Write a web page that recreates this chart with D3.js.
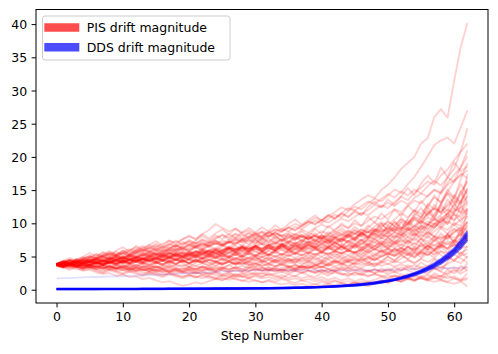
<!DOCTYPE html>
<html>
<head>
<meta charset="utf-8">
<script src="https://cdn.jsdelivr.net/npm/d3@7"></script>
<style>
  html, body { margin: 0; padding: 0; background: #fff; }
  svg { display: block; }
  text { font-family: "DejaVu Sans", sans-serif; fill: #000; }
</style>
</head>
<body>
<svg id="chart" width="498" height="354"></svg>
<script>
// ---------------- data ----------------
const steps = [0,1,2,3,4,5,6,7,8,9,10,11,12,13,14,15,16,17,18,19,20,21,22,23,24,25,26,27,28,29,30,31,32,33,34,35,36,37,38,39,40,41,42,43,44,45,46,47,48,49,50,51,52,53,54,55,56,57,58,59,60,61,62];
const xTicks = [0,10,20,30,40,50,60];
const yTicks = [0,5,10,15,20,25,30,35,40];
const legendLabels = ["PIS drift magnitude", "DDS drift magnitude"];
const xLabel = "Step Number";

// PIS drift magnitude runs
const pis01 = [3.8,3.9,4.1,4.0,4.3,4.5,4.4,4.7,4.9,4.8, 5.1,5.0,5.4,5.6,5.3,5.8,6.1,5.9,6.3,6.0, 6.4,6.8,6.5,7.1,7.4,7.0,7.5,7.9,7.6,8.1, 8.4,8.0,8.6,9.1,8.8,9.4,9.9,9.5,10.2,10.8, 10.4,11.1,11.7,12.4,12.0,12.9,13.6,14.2,13.8,15.0, 15.8,16.9,18.2,19.1,20.0,22.0,22.8,26.0,27.2,25.9, 31.5,36.6,40.2];
const pis02 = [3.7,3.5,3.8,3.6,3.9,4.2,4.0,4.4,4.1,4.6, 4.9,4.5,4.8,5.2,5.0,5.5,5.3,5.9,6.2,5.8, 6.1,6.6,6.3,6.9,7.3,6.8,7.2,7.7,7.4,7.9, 8.3,7.8,8.2,8.7,9.2,8.8,9.5,9.1,9.8,10.4, 10.0,10.7,11.3,10.9,11.8,12.5,12.1,13.0,13.7,13.3, 14.2,15.1,14.6,15.9,17.0,18.5,20.1,21.8,22.5,22.9, 22.0,24.5,27.0];
const pis03 = [3.9,4.1,3.9,4.2,4.0,4.3,4.6,4.3,4.7,4.5, 4.8,5.2,4.9,5.3,5.7,5.4,5.9,5.6,6.0,6.4, 6.0,6.5,6.9,6.6,7.0,6.7,7.3,7.0,7.6,7.2, 7.8,7.4,8.0,8.5,8.1,8.7,8.3,9.0,8.6,9.3, 9.8,9.4,10.1,10.7,10.3,11.0,11.6,11.2,12.0,12.7, 12.3,13.2,14.0,13.5,14.6,15.4,16.3,15.8,17.2,18.1, 19.5,20.8,22.0];
const pis04 = [3.6,3.4,3.7,3.5,3.8,3.6,4.0,3.8,4.2,4.4, 4.1,4.5,4.3,4.7,4.4,4.9,5.2,4.9,5.3,5.0, 5.4,5.8,5.5,5.9,6.3,6.0,6.5,6.2,6.7,6.4, 6.9,7.3,7.0,7.5,7.2,7.8,8.3,7.9,8.5,8.2, 8.8,8.4,9.1,9.7,9.3,10.0,9.6,10.4,11.0,10.6, 11.4,12.1,11.7,12.6,13.4,13.0,14.2,15.0,14.5,16.1, 17.3,18.4,20.1];
const pis05 = [3.8,4.0,4.3,4.1,4.5,4.8,4.6,5.0,5.3,5.1, 5.5,5.8,5.5,5.9,6.3,6.0,6.4,6.8,6.5,6.9, 7.3,7.0,7.5,7.2,7.8,8.2,7.9,8.4,8.1,8.6, 8.2,8.8,8.5,9.1,8.7,9.4,9.0,9.7,10.3,9.9, 10.5,10.1,10.8,11.4,11.0,11.7,11.3,12.0,12.8,12.4, 13.1,12.6,13.4,12.9,13.8,14.5,14.0,15.1,14.6,15.8, 16.5,17.2,18.0];
const pis06 = [3.9,4.2,4.5,4.3,4.7,5.0,4.8,5.2,5.6,5.3, 5.7,6.1,5.8,6.3,6.7,6.4,6.9,7.4,7.1,7.6, 8.0,7.7,8.4,9.0,9.9,9.3,8.8,9.2,8.6,8.9, 8.4,8.7,8.1,8.5,8.0,8.4,7.8,8.2,7.7,8.1, 7.5,7.9,7.4,7.8,8.3,7.9,8.5,8.1,8.7,9.2, 8.8,9.5,9.0,9.8,10.5,10.0,10.9,10.4,11.3,12.1, 11.5,13.2,15.0];
const pis07 = [3.7,3.9,3.7,4.0,4.3,4.1,4.4,4.2,4.6,4.9, 4.6,5.0,5.4,5.1,5.5,5.2,5.7,6.1,5.8,6.2, 5.9,6.4,6.1,6.6,7.0,6.7,7.2,6.9,7.5,7.9, 7.6,8.1,8.6,8.2,8.8,9.3,8.9,9.6,10.2,9.8, 10.5,11.2,10.8,11.5,12.3,11.9,12.6,13.3,12.9,13.7, 14.4,13.9,14.8,14.2,15.1,14.5,15.6,16.4,15.7,16.9, 16.2,17.5,16.8];
const pis08 = [3.8,3.6,3.9,3.7,4.0,3.8,4.1,3.9,4.3,4.1, 4.4,4.2,4.6,4.4,4.8,4.5,4.9,5.3,5.0,5.4, 5.1,5.5,5.2,5.6,5.3,5.8,5.5,6.0,6.4,6.1, 6.5,6.2,6.7,6.3,6.8,6.5,7.0,6.6,7.2,6.9, 7.4,7.1,7.7,7.3,7.9,7.5,8.2,8.8,8.4,9.1, 8.7,9.5,9.1,10.0,10.8,10.3,11.4,12.2,11.6,12.9, 13.8,13.1,15.2];
const pis09 = [3.9,3.7,4.0,4.2,4.0,4.3,4.1,4.5,4.2,4.6, 4.3,4.7,4.4,4.8,4.5,4.2,4.6,4.3,4.7,4.4, 4.8,5.2,4.9,5.3,5.0,5.5,5.1,5.6,5.3,5.8, 6.2,5.8,6.3,6.0,6.5,6.9,6.5,7.1,6.7,7.3, 7.8,7.4,8.0,7.6,8.3,8.9,8.4,9.1,8.7,9.5, 10.2,9.7,10.6,10.1,11.0,10.5,11.5,12.3,11.7,12.6, 13.4,12.8,14.1];
const pis10 = [3.7,3.9,3.6,3.8,3.5,3.7,3.4,3.7,3.5,3.8, 4.1,3.8,4.2,3.9,4.3,4.0,4.4,4.1,4.5,4.2, 4.6,4.3,4.7,5.1,4.8,5.2,4.9,5.4,5.0,5.5, 5.2,5.7,5.3,5.8,6.3,5.9,6.4,6.0,6.6,6.2, 6.8,6.4,7.0,6.6,7.3,6.9,7.6,7.2,7.9,8.5, 8.0,8.7,8.3,9.1,8.6,9.5,10.3,9.8,10.7,11.5, 12.2,11.6,13.0];
const pis11 = [3.8,4.0,3.8,4.1,3.9,4.2,4.5,4.2,4.6,4.9, 4.6,5.0,4.7,5.1,5.5,5.2,5.6,5.3,5.7,5.4, 5.8,5.5,5.9,5.6,6.0,5.7,6.2,5.8,6.3,5.9, 6.4,6.0,6.5,6.1,6.6,6.2,6.7,6.3,6.8,6.4, 6.9,7.4,7.0,7.6,7.2,7.8,7.4,8.0,7.6,8.3, 7.9,8.6,8.2,8.9,9.6,9.1,9.9,9.4,10.3,11.0, 10.5,11.4,12.2];
const pis12 = [3.8,3.6,3.4,3.6,3.3,3.5,3.2,3.4,3.1,3.3, 3.0,3.2,2.9,3.1,2.8,3.0,2.7,3.0,2.8,3.1, 3.4,3.1,3.5,3.2,3.6,3.3,3.7,4.1,3.8,4.2, 3.9,4.3,4.0,4.5,4.2,4.7,4.4,4.9,4.6,5.1, 5.6,5.2,5.8,5.4,6.0,5.6,6.3,5.9,6.6,7.2, 6.8,7.5,7.1,7.9,7.4,8.3,7.8,8.8,9.5,9.0, 10.1,9.6,11.0];
const pis13 = [3.9,4.1,4.4,4.2,4.5,4.3,4.7,4.4,4.8,4.5, 4.9,4.6,5.0,4.7,5.1,4.8,5.2,4.9,5.4,5.1, 5.5,5.2,5.7,5.3,5.8,5.4,6.0,5.6,6.1,5.7, 6.2,5.8,6.3,5.9,6.5,6.0,6.6,6.1,6.7,6.3, 5.9,6.4,6.0,6.5,6.1,6.7,6.2,6.8,6.3,7.0, 6.5,7.2,6.7,7.4,6.9,7.7,7.2,8.0,7.5,8.4, 9.2,8.7,10.1];
const pis14 = [3.7,3.5,3.7,3.4,3.6,3.3,3.5,3.2,3.4,3.1, 3.3,3.0,3.2,2.9,3.1,2.7,2.9,2.6,2.8,2.5, 2.7,2.4,2.6,2.3,2.5,2.2,2.4,2.1,2.3,2.6, 2.3,2.5,2.2,2.4,2.7,2.4,2.8,2.5,2.9,2.6, 3.0,2.7,3.1,3.5,3.2,3.6,3.3,3.8,3.5,4.0, 4.5,4.1,4.7,5.3,4.9,5.6,5.2,6.0,6.7,6.2, 7.4,8.3,9.5];
const pis15 = [3.8,3.9,3.7,3.9,3.6,3.8,4.0,3.8,4.1,3.9, 4.2,4.0,3.7,4.0,3.8,4.1,3.8,4.2,3.9,4.3, 4.0,4.4,4.1,4.5,4.2,4.6,4.3,4.7,4.4,4.8, 4.5,4.9,4.6,5.0,4.7,5.2,4.8,5.3,4.9,5.4, 5.0,5.5,5.1,5.6,5.2,5.7,5.3,5.9,5.4,6.0, 5.6,6.2,5.8,6.4,6.0,6.6,6.1,6.8,6.3,7.0, 6.5,7.3,8.0];
const pis16 = [3.9,4.1,3.9,4.2,4.0,4.3,4.1,4.4,4.2,4.5, 4.8,4.5,4.9,4.6,5.0,5.4,5.1,5.5,5.2,5.6, 5.3,5.7,6.1,5.8,6.2,5.9,6.3,6.0,6.5,6.1, 6.6,6.2,6.7,6.3,6.8,6.4,6.0,6.5,6.1,6.6, 6.2,6.7,6.3,6.9,6.4,7.0,6.5,6.1,6.6,6.2, 6.7,6.3,6.8,6.4,7.0,6.5,7.1,6.6,7.3,6.8, 7.5,6.9,7.2];
const pis17 = [3.7,3.8,3.6,3.8,3.5,3.7,3.4,3.6,3.3,3.5, 3.2,3.5,3.2,3.4,3.7,3.4,3.7,3.4,3.8,3.5, 3.9,3.6,4.0,3.7,4.1,3.8,4.2,3.9,4.3,4.0, 4.4,4.1,4.5,4.2,4.6,4.3,4.7,4.4,4.8,4.5, 4.9,4.6,5.0,4.7,5.1,4.8,5.2,4.9,5.3,5.0, 5.4,5.1,5.5,5.2,5.6,5.3,5.7,5.4,5.8,5.5, 5.9,5.5,6.1];
const pis18 = [3.8,3.7,3.9,3.7,4.0,3.8,4.1,3.9,4.2,4.5, 4.2,4.6,4.3,4.7,4.4,4.8,4.5,4.9,4.6,4.2, 4.5,4.1,4.4,4.0,4.3,3.9,4.2,3.8,4.1,3.7, 4.0,3.6,3.9,3.5,3.8,3.4,3.7,3.3,3.6,3.2, 3.5,3.1,3.4,3.0,3.3,2.9,3.2,2.8,3.1,2.7, 3.0,2.6,2.9,3.3,3.0,3.4,3.1,3.6,3.3,3.9, 4.4,4.0,5.0];
const pis19 = [3.6,3.5,3.3,3.5,3.2,3.4,3.1,3.3,3.0,3.2, 2.9,3.1,2.8,3.0,2.7,2.9,2.6,2.8,2.5,2.7, 2.4,2.6,2.3,2.5,2.2,2.0,2.2,1.9,2.1,1.8, 2.0,1.7,1.9,1.6,1.8,1.5,1.7,1.4,1.6,1.3, 1.5,1.2,1.4,1.1,1.3,1.0,1.2,0.9,1.1,1.4, 1.2,1.5,1.3,1.7,1.4,1.9,1.6,2.2,1.9,2.5, 3.1,2.7,4.0];
const pis20 = [3.7,3.5,3.6,3.4,3.2,3.4,3.1,2.9,3.1,2.8, 3.0,2.7,2.9,2.6,2.4,2.6,2.3,2.5,2.2,2.0, 2.2,1.9,2.1,1.8,1.6,1.8,1.5,1.7,1.4,1.2, 1.4,1.1,1.3,1.0,0.8,1.0,0.7,0.9,0.6,0.8, 0.6,0.9,0.7,1.0,0.8,1.1,0.9,1.2,1.0,1.4, 1.1,1.5,1.2,1.6,1.3,1.8,1.5,1.9,1.6,2.1, 1.7,1.4,2.5];
const pis21 = [3.9,3.7,3.9,3.6,3.8,3.5,3.7,3.4,3.6,3.3, 3.5,3.2,3.4,3.1,3.3,3.0,3.2,2.9,3.1,2.8, 3.0,2.7,2.9,3.2,2.9,3.3,3.0,3.4,3.1,3.5, 3.2,2.9,3.1,2.8,3.0,2.7,2.9,2.6,2.8,2.5, 2.7,2.4,2.6,2.3,2.5,2.2,2.4,2.1,2.3,2.0, 2.2,1.9,2.1,1.8,1.5,1.7,1.4,1.2,1.4,1.1, 0.9,1.2,0.5];
const pis22 = [3.6,3.3,3.5,3.1,2.9,3.0,2.6,2.4,2.5,2.1, 2.3,1.9,2.0,1.6,1.8,1.4,1.1,1.3,0.9,0.6, 0.8,1.1,0.9,1.3,1.6,1.4,1.8,2.1,1.9,2.3, 2.6,2.4,2.8,3.1,2.9,3.3,3.0,3.5,3.2,3.7, 4.1,3.8,4.3,4.0,4.6,4.3,4.9,4.5,5.2,5.8, 5.4,6.1,5.7,6.5,6.0,6.9,6.4,7.4,8.1,7.6, 8.7,9.4,8.9];
const pis23 = [3.8,4.0,4.2,4.0,4.3,4.1,4.5,4.2,4.6,4.4, 4.7,4.4,4.8,4.5,4.9,4.6,5.1,4.7,5.2,4.8, 5.3,4.9,5.4,5.0,5.5,5.1,5.6,5.2,5.7,5.3, 5.8,5.4,5.9,5.5,6.1,5.6,6.2,5.7,6.3,5.9, 6.4,6.0,6.6,6.1,6.7,6.3,6.9,7.5,7.1,7.8, 7.4,8.2,7.7,8.6,8.1,9.0,9.8,9.3,10.4,11.5, 12.8,14.3,16.5];
const pis24 = [3.7,3.9,4.1,4.4,4.2,4.5,4.8,4.5,4.9,5.2, 4.9,5.3,5.0,5.4,5.1,5.5,5.2,5.6,5.3,5.7, 5.4,5.8,5.5,5.9,5.6,6.0,6.4,6.1,6.5,6.2, 6.6,7.0,6.7,7.1,6.8,7.2,6.9,7.4,7.0,7.5, 7.1,7.6,7.2,7.7,7.3,7.8,8.3,7.9,8.4,8.0, 8.6,9.2,8.8,9.4,8.9,9.7,9.2,10.1,9.6,10.6, 11.4,10.9,12.3];
const pis25 = [3.8,3.6,3.8,4.1,3.9,4.2,3.9,4.3,4.0,4.4, 4.1,4.5,4.2,4.6,4.3,4.7,4.4,4.8,4.5,4.9, 4.6,5.0,4.7,5.1,4.8,4.5,4.8,4.4,4.7,4.3, 4.6,4.2,4.5,4.1,4.4,4.0,4.3,3.9,4.2,3.8, 4.1,4.5,4.2,4.6,4.3,4.7,4.4,4.9,4.5,5.0, 5.5,5.1,5.7,5.3,5.9,5.5,6.2,5.8,6.6,7.3, 6.9,7.8,9.0];
const pis26 = [3.9,4.2,4.0,4.4,4.7,4.4,4.8,5.1,4.8,5.2, 5.6,5.3,5.7,6.0,5.7,6.1,6.5,6.2,6.6,6.3, 6.7,7.1,6.8,7.2,6.9,7.4,7.0,7.5,7.1,7.6, 7.2,7.7,7.3,7.8,7.4,7.9,7.5,8.0,7.6,8.1, 7.7,8.2,7.8,8.3,7.9,8.4,8.0,7.6,8.1,7.7, 8.2,7.8,8.3,7.9,8.5,8.0,8.6,8.1,7.7,8.2, 7.8,8.4,7.5];
const pis27 = [3.8,3.9,3.7,3.9,3.6,3.8,3.5,3.7,3.9,3.6, 3.8,3.5,3.7,3.4,3.6,3.3,3.5,3.8,3.5,3.7, 3.4,3.6,3.3,3.5,3.2,3.4,3.1,3.3,3.6,3.3, 3.5,3.2,3.4,3.1,3.3,3.6,3.3,3.6,3.3,3.7, 3.4,3.8,3.5,3.9,3.6,4.0,3.7,4.1,3.8,4.2, 3.9,4.3,4.0,4.4,4.1,4.6,4.2,4.7,4.3,4.9, 4.5,5.1,5.5];
const pis28 = [3.7,3.9,4.1,3.9,4.2,4.5,4.2,4.6,4.3,4.7, 4.4,4.8,4.5,4.9,4.6,5.0,4.7,5.1,4.8,5.2, 4.9,5.3,5.0,5.4,5.1,4.8,5.1,4.7,5.0,4.6, 4.9,4.5,4.8,4.4,4.7,4.3,4.6,4.2,4.5,4.1, 4.4,4.0,4.3,3.9,4.2,3.8,4.1,3.7,4.0,3.6, 3.9,3.5,3.8,3.4,3.7,3.3,3.6,3.2,3.5,3.1, 3.4,3.0,3.5];
const pis29 = [3.9,4.0,3.8,4.1,3.9,4.2,4.0,4.3,4.1,4.4, 4.2,4.5,4.3,4.6,4.4,4.7,4.5,4.8,5.2,4.9, 5.3,5.0,5.4,5.8,5.5,5.9,6.3,6.0,6.4,6.1, 6.5,6.9,6.6,7.0,7.5,7.1,7.6,8.1,7.7,8.2, 7.8,8.3,8.8,8.4,8.9,8.5,9.0,8.6,9.2,8.7, 9.3,8.8,9.4,9.0,9.6,10.3,9.8,10.6,10.1,11.0, 11.8,12.4,13.2];
const pis30 = [3.7,3.6,3.8,3.5,3.7,3.4,3.6,3.3,3.5,3.2, 3.4,3.7,3.4,3.6,3.3,3.5,3.2,3.4,3.1,3.3, 3.0,3.2,2.9,3.1,2.8,3.0,2.7,2.9,2.6,2.8, 3.1,2.8,3.0,3.3,3.0,3.4,3.1,3.5,3.2,3.6, 3.9,3.6,4.0,4.4,4.1,4.6,4.2,4.8,4.4,5.0, 5.5,5.1,5.8,5.4,6.2,5.7,6.6,6.1,7.1,7.9, 8.6,9.3,10.2];
const pis31 = [3.8,4.0,3.8,4.1,3.8,4.2,3.9,4.3,4.0,4.4, 4.1,4.5,4.2,4.6,4.3,4.7,4.4,4.8,4.5,4.9, 4.6,5.0,4.7,5.1,4.8,5.2,4.9,5.3,5.0,5.4, 5.1,5.5,5.2,5.7,5.3,5.8,5.4,5.9,5.5,6.1, 5.7,6.3,5.9,6.5,6.1,6.8,6.3,7.0,6.6,7.4, 7.0,7.8,8.6,8.1,9.2,10.3,9.7,11.4,12.9,14.6, 13.8,16.7,19.1];
const pis32 = [3.7,3.5,3.7,3.5,3.8,3.6,3.9,3.7,4.0,3.8, 4.1,3.9,4.2,4.0,4.3,4.1,4.4,4.2,4.5,4.3, 4.6,4.4,4.8,4.5,4.9,4.6,5.0,4.7,5.1,4.8, 5.2,4.9,5.3,5.0,5.4,5.1,5.5,5.2,5.6,5.3, 5.7,5.4,5.8,5.5,5.9,5.6,6.0,6.5,6.1,6.7, 6.3,6.9,7.6,7.1,7.9,8.8,8.2,9.3,10.6,9.9, 11.8,13.2,15.3];
const pis33 = [3.9,4.1,4.3,4.1,4.4,4.2,4.6,4.9,4.6,5.0, 4.7,5.1,4.8,5.2,4.9,5.3,5.0,5.5,5.1,5.6, 5.2,5.7,5.3,5.8,5.4,5.9,6.3,6.0,6.5,6.1, 6.6,6.2,6.7,7.2,6.8,7.3,6.9,7.5,7.1,7.7, 8.2,7.8,8.5,8.1,8.8,8.3,9.1,8.6,9.5,10.2, 9.7,10.6,11.5,10.9,12.0,11.4,12.7,13.9,13.2,14.8, 16.3,18.5,21.0];
const pis34 = [3.8,3.6,3.9,3.7,4.0,3.7,4.1,3.8,4.2,3.9, 4.3,4.0,4.4,4.1,4.5,4.2,4.6,4.3,4.7,4.4, 4.0,4.4,4.1,4.5,4.2,4.6,4.3,4.7,4.4,4.8, 5.2,4.9,5.3,5.0,5.4,5.1,5.5,5.2,5.6,5.3, 5.7,5.4,5.8,5.5,5.9,5.6,6.0,5.7,6.1,5.8, 6.2,5.8,6.3,5.9,6.4,6.0,6.6,6.1,6.7,6.2, 6.8,6.3,6.5];
const pis35 = [3.8,3.7,3.9,3.8,4.0,3.9,4.1,3.9,4.2,4.0, 4.3,4.0,4.4,4.1,3.8,4.1,3.8,4.2,3.9,4.3, 4.0,4.4,4.1,4.5,4.2,3.9,4.2,3.8,4.1,3.7, 4.0,3.6,3.9,3.5,3.8,3.4,3.7,3.3,3.6,3.2, 3.5,3.1,2.8,3.1,2.7,3.0,2.6,2.9,2.5,2.8, 2.4,2.7,2.3,2.0,2.3,1.9,2.2,1.8,2.1,1.7, 2.0,1.5,1.8];
const pis36 = [3.9,4.2,4.5,4.3,4.7,5.0,4.7,5.1,5.4,5.1, 5.5,5.2,5.6,6.0,5.6,6.1,5.7,6.2,6.6,6.3, 6.7,6.4,6.8,6.5,7.0,6.6,7.1,7.6,7.2,7.7, 8.1,7.7,8.2,7.8,8.3,7.9,8.4,8.0,7.6,8.1, 7.7,8.2,7.8,8.4,8.0,8.6,8.1,8.7,8.2,8.9, 8.4,9.1,8.6,9.3,8.8,9.6,9.0,9.9,9.3,10.3, 9.7,10.6,11.1];
const pis37 = [3.8,4.1,3.7,4.3,4.0,4.6,4.2,3.9,4.5,4.8, 4.3,5.0,4.6,4.1,4.7,5.3,4.9,5.6,5.1,4.6, 5.2,5.8,5.3,6.0,5.5,4.9,5.6,6.2,5.7,6.4, 5.8,5.2,5.9,6.6,6.0,5.4,6.1,6.9,6.3,7.0, 6.4,7.2,6.5,5.9,6.7,7.5,6.8,7.7,8.5,7.8, 8.7,7.9,9.0,10.1,9.2,8.4,9.6,10.8,9.9,11.5, 10.4,12.6,11.2];
const pis38 = [3.7,3.4,3.9,3.5,3.2,3.7,4.0,3.6,4.2,3.8, 3.4,3.9,4.3,3.8,3.3,3.9,4.4,3.9,4.5,4.0, 3.5,4.1,4.7,4.1,3.6,4.2,4.8,4.3,3.8,4.4, 5.0,4.4,3.9,4.5,5.1,4.6,4.0,4.7,5.3,4.7, 4.2,4.8,5.5,4.9,4.3,5.0,5.7,5.1,4.5,5.3, 6.0,5.3,6.2,5.5,4.8,5.8,6.7,5.9,7.0,6.1, 7.5,6.4,8.2];
const pis39 = [3.9,4.3,4.0,4.6,4.9,4.4,5.0,5.5,5.0,5.7, 5.2,5.9,6.4,5.8,6.5,6.0,5.4,6.2,6.8,6.1, 6.9,6.3,7.1,6.4,5.8,6.5,7.3,6.6,5.9,6.7, 7.5,6.8,6.1,6.9,7.8,7.0,6.3,7.1,8.0,7.2, 8.2,7.3,6.6,7.5,8.5,7.6,8.7,7.8,8.9,9.9, 9.0,10.2,9.2,10.5,9.5,10.9,12.0,10.8,12.4,11.1, 13.0,11.6,14.2];
const pis40 = [3.8,3.5,3.9,3.6,3.3,3.8,3.4,3.1,3.6,3.2, 3.7,3.3,2.9,3.4,3.0,3.5,3.1,2.7,3.2,2.8, 3.3,2.9,3.5,3.0,2.6,3.1,3.7,3.2,2.8,3.3, 3.9,3.4,2.9,3.5,4.1,3.6,3.1,3.7,4.3,3.8, 3.3,3.9,4.5,4.0,3.4,4.1,4.7,4.2,3.6,4.3, 5.0,4.4,5.2,4.6,3.9,4.7,5.5,4.8,5.8,5.0, 6.1,5.2,6.6];
const pis41 = [3.7,4.0,4.4,4.0,4.5,4.1,4.7,5.1,4.6,5.2, 4.7,5.3,5.8,5.2,5.9,5.3,4.8,5.4,6.0,5.4, 4.9,5.5,6.2,5.6,5.0,5.7,6.4,5.8,5.2,5.9, 6.6,5.9,5.3,6.0,6.8,6.1,5.5,6.2,7.0,6.3, 5.6,6.4,7.2,6.5,5.8,6.6,7.5,6.7,7.6,6.8, 7.8,6.9,8.0,9.1,8.2,9.4,8.5,9.8,11.0,9.9, 11.4,10.2,12.0];
const pis42 = [3.6,3.3,3.0,3.3,2.9,3.2,2.8,2.5,2.9,2.6, 2.3,2.7,2.4,2.1,2.5,2.2,1.9,2.3,2.0,1.7, 2.1,1.8,2.3,2.0,1.7,2.2,1.9,2.4,2.0,1.7, 2.2,1.9,2.5,2.1,1.8,2.3,2.0,2.6,2.2,1.9, 2.5,2.1,2.7,2.3,2.0,2.6,2.2,2.9,2.5,3.2, 2.7,3.4,2.9,3.7,3.2,4.1,3.5,4.5,3.9,5.0, 4.3,5.6,4.8];
const pis43 = [3.8,4.2,3.9,4.4,4.0,4.5,4.1,3.7,4.2,3.8, 4.4,4.0,4.6,4.1,4.7,4.2,3.8,4.4,3.9,4.5, 4.0,4.7,4.2,4.9,4.3,3.9,4.5,4.0,4.7,4.2, 4.9,4.3,5.0,4.4,3.9,4.6,4.1,4.8,4.2,5.0, 4.4,5.1,4.5,5.3,4.6,5.5,4.8,5.7,4.9,5.9, 5.1,6.2,5.3,6.5,5.6,7.0,6.0,7.6,6.5,8.3, 7.1,9.2,7.8];
const pis44 = [3.9,4.3,4.8,4.4,5.0,5.5,5.0,5.7,5.2,5.9, 6.4,5.8,6.6,6.0,6.8,7.3,6.6,7.4,6.8,7.6, 8.2,7.5,8.4,7.7,8.5,9.1,8.3,9.2,8.4,7.8, 8.6,7.9,8.8,8.1,7.4,8.2,7.5,8.3,7.6,8.5, 7.8,8.7,8.0,8.9,8.1,9.1,8.3,9.4,10.2,9.3, 10.4,9.5,10.8,9.8,11.2,12.3,11.1,12.8,11.5,13.6, 12.2,14.8,13.1];
const pis45 = [3.7,3.9,3.5,3.8,3.4,3.7,4.1,3.7,4.2,3.8, 4.3,3.9,3.5,4.0,3.6,4.1,3.7,4.3,3.8,4.4, 3.9,4.5,4.0,3.6,4.1,3.7,4.3,3.8,4.4,3.9, 3.5,4.0,3.6,4.2,3.7,4.3,3.8,3.4,3.9,3.5, 4.1,3.6,4.2,3.7,4.4,3.9,4.6,4.0,4.8,4.2, 5.0,4.4,5.3,4.6,5.6,4.9,6.0,5.2,6.5,5.6, 7.0,6.1,7.6];
const pis46 = [3.8,3.6,4.0,3.7,4.1,3.8,4.3,3.9,4.4,4.0, 4.5,4.1,4.7,4.2,4.8,4.3,5.0,4.5,5.1,4.6, 5.3,4.8,5.5,4.9,5.6,5.1,5.8,5.2,6.0,5.4, 6.2,5.6,6.4,5.8,6.7,6.0,6.9,6.2,7.2,6.5, 7.5,6.8,7.8,7.1,8.2,7.4,8.6,7.8,9.0,8.2, 9.5,8.7,10.1,9.2,10.8,9.9,11.7,10.7,12.8,11.8, 14.3,13.1,17.4];
const pis47 = [3.8,3.5,3.2,3.5,3.1,3.4,3.0,2.7,3.1,2.8, 2.5,2.9,2.6,2.3,2.7,2.4,2.1,2.5,2.2,1.9, 2.3,2.0,1.7,2.1,1.8,1.5,1.9,1.6,1.3,1.7, 1.4,1.1,1.5,1.2,1.6,1.3,1.0,1.4,1.1,0.8, 1.2,0.9,1.3,1.0,0.7,1.1,0.8,0.5,0.9,1.3, 1.0,1.5,1.2,1.8,1.4,2.1,1.7,2.5,2.0,3.0, 2.4,3.6,2.9];
const pis48 = [3.8,4.1,4.5,4.1,4.6,4.2,4.7,4.3,4.9,4.4, 5.0,4.5,5.1,4.6,5.3,4.8,5.5,4.9,5.6,5.0, 5.7,5.1,5.9,5.3,6.0,5.4,6.2,5.5,6.3,5.6, 6.4,5.7,6.5,5.8,6.6,5.9,6.8,6.1,6.9,6.2, 7.1,6.3,7.2,6.4,7.4,6.6,7.5,6.7,7.7,6.9, 7.9,7.1,8.2,7.3,8.5,7.6,8.8,7.9,9.3,8.4, 9.9,8.9,10.3];
const pis49 = [3.9,4.0,4.3,4.0,4.4,4.1,4.6,4.2,4.7,4.3, 4.9,4.5,5.0,4.6,5.2,4.8,5.4,4.9,5.5,5.0, 5.7,5.2,5.9,5.4,6.1,5.5,6.2,5.7,6.4,5.8, 6.6,6.0,6.8,6.2,7.0,6.4,7.2,6.6,7.4,6.8, 7.7,7.0,7.9,7.3,8.2,7.6,8.6,8.0,9.1,8.5, 9.7,9.0,10.4,9.7,11.5,10.8,12.9,12.1,14.8,16.9, 18.2,20.9,24.3];
const pis50 = [3.7,4.0,3.6,4.1,3.7,4.2,3.8,4.4,3.9,4.5, 4.0,4.6,4.1,4.7,4.2,4.9,4.3,5.0,4.4,5.1, 4.5,5.2,4.6,5.4,4.7,5.5,4.8,5.6,4.9,5.7, 5.0,5.8,5.1,5.9,5.2,6.0,5.3,6.1,5.4,6.2, 5.5,6.4,5.6,6.5,5.7,6.7,5.8,6.8,5.9,7.0, 6.1,7.2,6.2,7.4,6.4,7.7,6.6,8.0,6.8,8.4, 7.1,8.9,7.4];
const pis51 = [3.9,4.3,4.0,4.6,4.3,4.9,5.4,5.0,5.6,5.2, 5.9,5.4,6.1,5.6,6.3,6.9,6.3,7.0,6.5,7.2, 6.7,7.4,8.1,7.4,8.2,7.6,8.4,7.8,8.6,9.3, 8.6,9.4,8.8,9.7,9.0,9.9,10.6,9.8,10.5,11.2, 10.4,11.3,10.6,11.6,10.9,12.0,11.2,12.5,13.3,12.4, 13.6,12.8,14.1,15.3,14.2,16.0,17.2,16.1,18.4,17.0, 19.2,17.8,18.6];
const pis52 = [3.8,4.2,3.9,4.5,4.1,4.7,4.3,4.9,4.5,5.1, 4.7,5.3,4.9,5.5,5.1,5.8,5.3,6.0,5.5,6.2, 5.7,6.4,5.9,6.7,6.1,6.9,6.3,7.2,6.6,7.5, 6.9,7.8,7.1,8.1,7.4,8.4,7.7,8.8,8.0,9.2, 8.4,9.6,8.8,10.0,9.2,10.5,9.6,11.0,10.1,11.5, 10.6,12.1,11.1,12.7,11.7,13.4,12.3,14.2,13.0,15.1, 13.8,15.9,14.3];
const pis53 = [3.8,3.5,3.9,3.6,3.3,3.7,3.4,3.8,3.5,3.2, 3.6,3.3,3.7,3.4,3.1,3.5,3.2,3.6,3.3,3.0, 3.4,3.1,3.5,3.2,2.9,3.3,3.0,3.4,3.1,2.8, 3.2,2.9,3.3,3.0,2.7,3.1,2.8,3.2,2.9,2.6, 3.0,2.6,2.9,2.5,2.2,2.6,2.3,2.0,2.4,2.1, 1.8,2.2,1.9,1.6,2.0,1.7,1.4,1.8,1.5,1.2, 1.7,1.3,1.6];
const pis54 = [3.7,3.4,3.8,3.5,3.9,3.5,3.2,3.6,3.3,3.7, 3.3,3.0,3.4,3.1,2.8,3.2,2.9,3.3,3.0,2.7, 3.1,2.8,3.2,2.9,3.3,3.0,2.7,3.1,2.8,3.2, 2.9,3.3,3.0,2.7,3.1,2.8,3.2,2.9,3.4,3.0, 2.7,3.1,2.8,3.3,2.9,3.4,3.0,2.6,3.1,2.7, 3.2,2.8,3.4,2.9,2.5,3.0,2.6,3.2,2.7,2.3, 2.9,2.4,3.0];
const pis55 = [3.9,4.4,4.0,4.6,4.2,4.8,5.3,4.8,5.4,4.9, 5.5,5.0,5.7,6.3,5.7,6.4,5.8,6.5,5.9,6.6, 7.2,6.5,7.3,6.6,7.4,6.7,6.0,6.8,7.5,6.8, 7.6,6.9,7.7,7.0,6.3,7.1,7.9,7.2,8.1,7.3, 8.2,7.4,8.4,9.3,8.5,9.5,8.6,9.7,8.8,10.0, 9.0,10.3,9.3,10.7,12.0,10.9,12.4,11.1,12.9,14.5, 13.0,14.8,16.2];
const pis56 = [3.8,3.5,4.0,3.6,4.1,3.7,4.3,3.9,4.5,4.0, 4.6,4.1,4.8,4.3,5.0,4.5,5.2,4.7,5.4,4.9, 5.6,5.0,5.8,5.2,6.0,5.4,6.2,5.6,6.4,5.8, 6.6,5.9,6.7,6.0,6.9,6.2,5.6,6.4,5.7,6.5, 5.8,6.6,5.9,6.7,6.0,5.4,6.1,5.5,6.2,5.6, 6.3,5.6,6.4,5.7,5.1,5.8,5.2,5.9,5.2,4.6, 5.3,4.7,4.1];
const pis57 = [3.7,3.5,3.8,3.4,3.7,3.3,3.6,3.2,3.5,3.1, 3.4,3.0,3.3,2.9,3.2,2.8,3.1,2.7,3.0,2.6, 2.9,2.5,2.8,2.4,2.7,2.3,2.6,2.2,2.5,2.1, 2.4,2.0,2.3,1.9,2.2,1.8,2.1,1.7,2.0,1.6, 1.9,1.5,1.8,1.4,1.7,1.3,1.6,1.2,1.5,1.9, 1.6,2.1,1.8,2.4,2.0,2.8,2.3,3.3,2.8,4.2, 5.6,7.9,12.1];
const pis58 = [3.8,4.1,4.5,4.2,4.7,5.1,4.7,5.3,5.8,5.3, 5.9,5.4,6.0,6.6,6.0,6.7,6.1,6.8,7.4,6.8, 7.5,6.9,7.6,7.0,7.7,8.3,7.6,8.4,7.7,8.5, 7.8,8.6,7.9,8.7,8.0,7.3,8.1,7.4,8.2,7.5, 6.8,7.6,6.9,7.7,7.0,6.3,7.1,6.4,7.2,6.5, 7.3,6.6,7.5,6.8,7.8,7.0,8.1,7.3,8.5,7.7, 9.1,8.2,9.8];

// DDS drift magnitude runs (tight bundle + one faint outlier)
const ddsLow     = [0.08,0.08,0.08,0.08,0.08,0.08,0.08,0.09,0.09,0.09, 0.09,0.09,0.09,0.10,0.10,0.10,0.10,0.11,0.11,0.11, 0.12,0.12,0.13,0.13,0.14,0.14,0.15,0.16,0.16,0.17, 0.18,0.19,0.20,0.21,0.23,0.24,0.26,0.28,0.31,0.34, 0.37,0.41,0.45,0.50,0.56,0.62,0.70,0.79,0.90,1.05, 1.25,1.43,1.64,1.90,2.20,2.52,2.93,3.40,3.95,4.60, 5.35,6.30,7.50];
const ddsMidLow  = [0.09,0.09,0.09,0.09,0.09,0.09,0.09,0.10,0.10,0.10, 0.10,0.10,0.10,0.11,0.11,0.11,0.11,0.12,0.12,0.12, 0.13,0.13,0.14,0.14,0.15,0.15,0.16,0.17,0.17,0.18, 0.19,0.20,0.21,0.22,0.24,0.25,0.27,0.29,0.32,0.35, 0.39,0.43,0.47,0.53,0.59,0.65,0.74,0.83,0.95,1.10, 1.28,1.47,1.70,1.97,2.29,2.63,3.06,3.55,4.12,4.80, 5.57,6.60,7.85];
const ddsMid     = [0.10,0.10,0.10,0.10,0.10,0.10,0.10,0.11,0.11,0.11, 0.11,0.11,0.11,0.12,0.12,0.12,0.12,0.13,0.13,0.13, 0.14,0.14,0.15,0.15,0.16,0.17,0.17,0.18,0.19,0.20, 0.20,0.21,0.22,0.23,0.25,0.27,0.29,0.31,0.34,0.37, 0.41,0.45,0.50,0.56,0.62,0.69,0.78,0.88,1.00,1.15, 1.32,1.52,1.76,2.05,2.38,2.75,3.20,3.70,4.30,5.00, 5.80,6.90,8.20];
const ddsMidHigh = [0.12,0.12,0.12,0.12,0.12,0.12,0.12,0.13,0.13,0.13, 0.13,0.13,0.13,0.14,0.14,0.14,0.14,0.15,0.15,0.15, 0.16,0.16,0.17,0.17,0.18,0.19,0.19,0.20,0.21,0.22, 0.22,0.23,0.24,0.25,0.27,0.29,0.31,0.33,0.36,0.39, 0.43,0.47,0.52,0.58,0.65,0.72,0.82,0.92,1.05,1.20, 1.36,1.56,1.81,2.10,2.44,2.83,3.30,3.82,4.45,5.17, 6.00,7.15,8.50];
const ddsHigh    = [0.13,0.13,0.13,0.13,0.13,0.13,0.13,0.14,0.14,0.14, 0.14,0.14,0.14,0.15,0.15,0.15,0.15,0.16,0.16,0.16, 0.17,0.17,0.18,0.18,0.19,0.20,0.20,0.21,0.22,0.23, 0.24,0.25,0.26,0.27,0.29,0.31,0.33,0.35,0.38,0.41, 0.45,0.49,0.55,0.61,0.68,0.76,0.86,0.97,1.10,1.25, 1.40,1.60,1.86,2.16,2.50,2.90,3.40,3.95,4.60,5.35, 6.20,7.40,8.80];
const ddsStray   = [1.70,1.74,1.78,1.82,1.86,1.89,1.92,1.95,1.98,2.01, 2.05,2.09,2.13,2.17,2.21,2.25,2.29,2.33,2.38,2.43, 2.48,2.53,2.58,2.63,2.68,2.73,2.78,2.82,2.85,2.88, 2.91,2.93,2.94,2.95,2.95,2.94,2.93,2.92,2.91,2.90, 2.89,2.88,2.87,2.87,2.88,2.89,2.90,2.92,2.94,2.96, 2.98,3.00,3.03,3.06,3.09,3.12,3.15,3.18,3.22,3.26, 3.29,3.32,3.35];

const pisSeries = [pis01,pis02,pis03,pis04,pis05,pis06,pis07,pis08,pis09,pis10,pis11,pis12,pis13,pis14,pis15,pis16,pis17,pis18,pis19,pis20,pis21,pis22,pis23,pis24,pis25,pis26,pis27,pis28,pis29,pis30,pis31,pis32,pis33,pis34,pis35,pis36,pis37,pis38,pis39,pis40,pis41,pis42,pis43,pis44,pis45,pis46,pis47,pis48,pis49,pis50,pis51,pis52,pis53,pis54,pis55,pis56,pis57,pis58];
const ddsBundle = [ddsLow, ddsMidLow, ddsMid, ddsMidHigh, ddsHigh];

// ---------------- layout ----------------
const plot = { left: 36, right: 488, top: 9.5, bottom: 303 };
const FS = 12.5;

const svg = d3.select("#chart");
const x = d3.scaleLinear().domain([-3.1, 65.1]).range([plot.left, plot.right]);
const y = d3.scaleLinear().domain([-2.0, 42.2]).range([plot.bottom, plot.top]);

const line = d3.line().x((d, i) => x(steps[i])).y(d => y(d));

svg.append("defs").append("clipPath").attr("id", "clip")
  .append("rect").attr("x", plot.left).attr("y", plot.top)
  .attr("width", plot.right - plot.left).attr("height", plot.bottom - plot.top);

const g = svg.append("g").attr("clip-path", "url(#clip)");

g.selectAll("path.pis").data(pisSeries).join("path")
  .attr("class", "pis")
  .attr("d", line)
  .attr("fill", "none")
  .attr("stroke", "rgb(255,0,0)")
  .attr("stroke-opacity", 0.18)
  .attr("stroke-width", 1.9)
  .attr("stroke-linejoin", "round");

g.append("path").datum(ddsStray)
  .attr("d", line)
  .attr("fill", "none")
  .attr("stroke", "rgb(0,0,255)")
  .attr("stroke-opacity", 0.12)
  .attr("stroke-width", 1.9);

g.selectAll("path.dds").data(ddsBundle).join("path")
  .attr("class", "dds")
  .attr("d", line)
  .attr("fill", "none")
  .attr("stroke", "rgb(0,0,255)")
  .attr("stroke-opacity", 0.55)
  .attr("stroke-width", 2.2)
  .attr("stroke-linejoin", "round");

// ---------------- axes ----------------
const xAxis = d3.axisBottom(x).tickValues(xTicks).tickSize(4.4).tickPadding(4.4).tickFormat(d3.format("d"));
const yAxis = d3.axisLeft(y).tickValues(yTicks).tickSize(4.4).tickPadding(4.4).tickFormat(d3.format("d"));

const gx = svg.append("g").attr("transform", `translate(0,${plot.bottom})`).call(xAxis);
const gy = svg.append("g").attr("transform", `translate(${plot.left},0)`).call(yAxis);
[gx, gy].forEach(a => {
  a.select(".domain").remove();
  a.selectAll(".tick line").attr("stroke", "#000").attr("stroke-width", 1);
  a.selectAll(".tick text").attr("font-size", FS).attr("font-family", "DejaVu Sans").attr("fill", "#000");
});
gx.selectAll(".tick text").attr("dy", null).attr("y", 8.8).attr("dominant-baseline", "hanging");
gy.selectAll(".tick text").attr("dy", "0.36em");

// spines
svg.append("rect")
  .attr("x", plot.left).attr("y", plot.top)
  .attr("width", plot.right - plot.left).attr("height", plot.bottom - plot.top)
  .attr("fill", "none").attr("stroke", "#000").attr("stroke-width", 1);

// x label
svg.append("text")
  .attr("x", (plot.left + plot.right) / 2).attr("y", 340)
  .attr("text-anchor", "middle").attr("font-size", FS)
  .text(xLabel);

// ---------------- legend ----------------
const legend = svg.append("g");
legend.append("rect")
  .attr("x", 42.5).attr("y", 16).attr("width", 187.5).attr("height", 44)
  .attr("rx", 2.5).attr("ry", 2.5)
  .attr("fill", "#fff").attr("fill-opacity", 0.8)
  .attr("stroke", "#cccccc").attr("stroke-width", 1);

const legendColors = ["rgb(255,0,0)", "rgb(0,0,255)"];
legendLabels.forEach((lab, i) => {
  const cy = 27.5 + i * 19.7;
  legend.append("line")
    .attr("x1", 44.3).attr("x2", 79.3).attr("y1", cy).attr("y2", cy)
    .attr("stroke", legendColors[i]).attr("stroke-opacity", 0.7).attr("stroke-width", 8.5);
  legend.append("text")
    .attr("x", 86.7).attr("y", cy + 4.3)
    .attr("font-size", FS)
    .text(lab);
});
</script>
</body>
</html>
